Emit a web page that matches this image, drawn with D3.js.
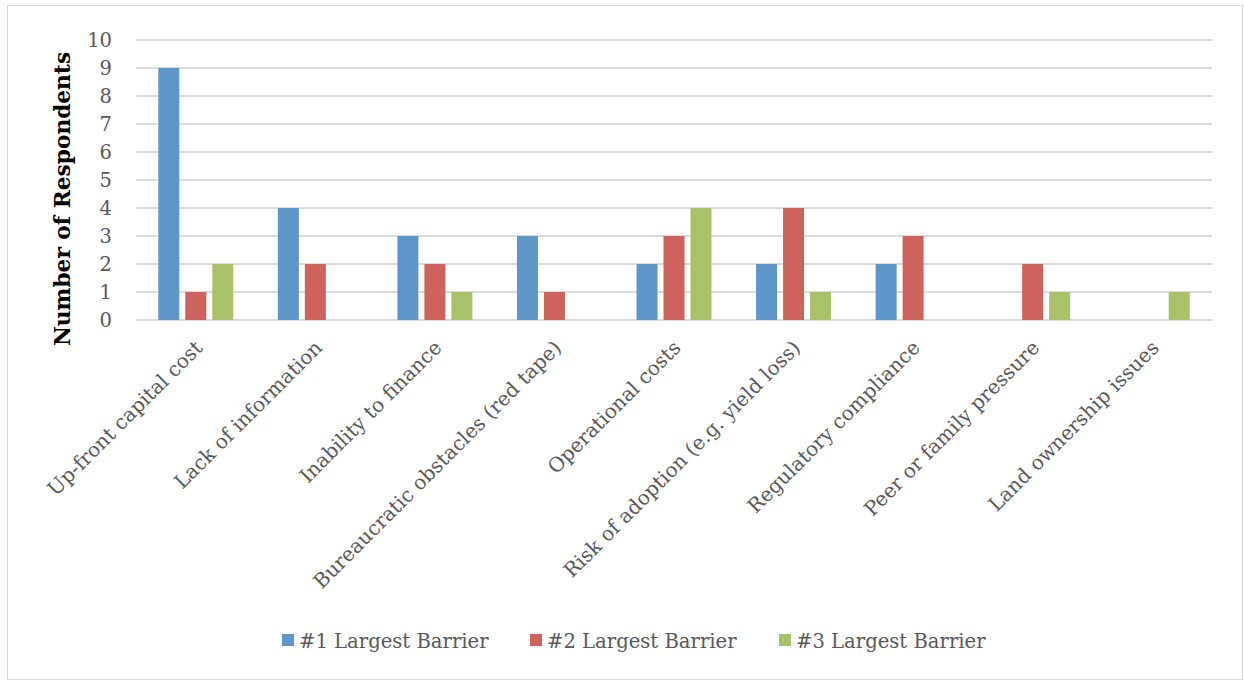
<!DOCTYPE html>
<html><head><meta charset="utf-8">
<script src="https://cdn.jsdelivr.net/npm/d3@7"></script>
<style>body{margin:0;background:#fff}svg{display:block}</style>
</head><body>
<script>
const categories = ["Up-front capital cost","Lack of information","Inability to finance","Bureaucratic obstacles (red tape)","Operational costs","Risk of adoption (e.g. yield loss)","Regulatory compliance","Peer or family pressure","Land ownership issues"];
const seriesNames = ["#1 Largest Barrier","#2 Largest Barrier","#3 Largest Barrier"];
const barrier1 = [9,4,3,3,2,2,2,0,0];
const barrier2 = [1,2,2,1,3,4,3,2,0];
const barrier3 = [2,0,1,0,4,1,0,1,1];
const yTicks = [0,1,2,3,4,5,6,7,8,9,10];
const colors = ["#5F96CA","#CD635C","#A9C26A"];
const series = [barrier1, barrier2, barrier3];

const W=1244,H=681;
const svg=d3.select("body").append("svg").attr("width",W).attr("height",H);
const font="'DejaVu Serif', serif";
svg.append("rect").attr("x",7.5).attr("y",5.5).attr("width",W-9).attr("height",H-7).attr("fill","#fff").attr("stroke","#d9d9d9");

const x0=d3.scaleBand().domain(categories).range([136,1212]);
const x1=d3.scaleBand().domain([0,1,2]).range([0,x0.bandwidth()]).paddingInner(0.222).paddingOuter(0.826);
const y=d3.scaleLinear().domain([0,10]).range([320,40]);

const g=svg.append("g");
g.selectAll("line.grid").data(yTicks).join("line").attr("x1",136).attr("x2",1212)
 .attr("y1",d=>y(d)).attr("y2",d=>y(d)).attr("stroke","#dcdcdc").attr("stroke-width",2);

const yAxis=g.append("g").attr("transform","translate(136,0)").call(d3.axisLeft(y).tickValues(yTicks).tickSize(0).tickPadding(24));
yAxis.select(".domain").remove();
yAxis.selectAll("text").attr("font-family",font).attr("font-size",19.5).attr("fill","#595959");

series.forEach((s,i)=>{
  g.selectAll("rect.s"+i).data(s.map((v,j)=>({v,c:categories[j]})).filter(d=>d.v>0)).join("rect")
   .attr("x",d=>x0(d.c)+x1(i)).attr("width",x1.bandwidth())
   .attr("y",d=>y(d.v)).attr("height",d=>y(0)-y(d.v)).attr("fill",colors[i]);
});

g.selectAll("text.cat").data(categories).join("text")
 .attr("transform",d=>`translate(${x0(d)+x0.bandwidth()/2+8},${349}) rotate(-45)`)
 .attr("text-anchor","end").attr("font-family",font).attr("font-size",20).attr("fill","#595959").text(d=>d);

svg.append("text").attr("transform","translate(70,199) rotate(-90)").attr("text-anchor","middle")
 .attr("font-family",font).attr("font-weight","bold").attr("font-size",21.7).attr("fill","#000").text("Number of Respondents");

const legX=[282,530,779];
seriesNames.forEach((n,i)=>{
  svg.append("rect").attr("x",legX[i]).attr("y",634).attr("width",12).attr("height",12).attr("fill",colors[i]);
  svg.append("text").attr("x",legX[i]+17).attr("y",648).attr("font-family",font).attr("font-size",19.6).attr("fill","#595959").text(n);
});
</script>
</body></html>
